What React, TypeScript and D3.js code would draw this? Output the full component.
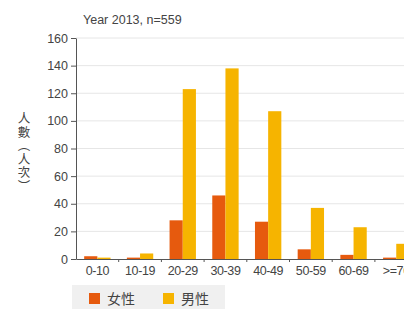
import React, { useEffect, useRef } from "react";
import * as d3 from "d3";

const ageGroups = ["0-10", "10-19", "20-29", "30-39", "40-49", "50-59", "60-69", ">=70"];
const femaleValues = [2, 1, 28, 46, 27, 7, 3, 1];
const maleValues = [1, 4, 123, 138, 107, 37, 23, 11];
const seriesNames = ["女性", "男性"];
const seriesColors = ["#e65a0e", "#f6b400"];
const yTicks = [0, 20, 40, 60, 80, 100, 120, 140, 160];
const yLabelChars = ["人", "數", "︵", "人", "次", "︶"];

const W = 404;
const H = 309;

export default function App() {
  const svgRef = useRef(null);

  useEffect(() => {
    const svg = d3.select(svgRef.current);
    svg.selectAll("*").remove();

    const marginLeft = 76, marginTop = 38, plotBottom = 259;
    const bandW = 42.7;
    const x = d3.scaleBand().domain(ageGroups).range([marginLeft, marginLeft + bandW * ageGroups.length]).paddingInner(0).paddingOuter(0);
    const y = d3.scaleLinear().domain([0, 160]).range([plotBottom, marginTop]);
    const inner = d3.scaleBand().domain(seriesNames).range([0, x.bandwidth()]).paddingOuter(0.62).paddingInner(0);

    const font = "'Helvetica Neue', 'Liberation Sans', Arial, sans-serif";
    const cjk = "'Noto Sans CJK TC', 'Noto Sans CJK SC', sans-serif";

    // gridlines
    svg.append("g")
      .selectAll("line")
      .data(yTicks.filter((d) => d > 0))
      .join("line")
      .attr("x1", marginLeft)
      .attr("x2", W)
      .attr("y1", (d) => y(d))
      .attr("y2", (d) => y(d))
      .attr("stroke", "#e6e6e6")
      .attr("stroke-width", 1);

    // bars
    const data = ageGroups.map((g, i) => ({ g, vals: [femaleValues[i], maleValues[i]] }));
    svg.append("g")
      .selectAll("g")
      .data(data)
      .join("g")
      .attr("transform", (d) => `translate(${x(d.g)},0)`)
      .selectAll("rect")
      .data((d) => d.vals.map((v, k) => ({ v, k })))
      .join("rect")
      .attr("x", (d) => inner(seriesNames[d.k]))
      .attr("width", inner.bandwidth())
      .attr("y", (d) => y(d.v))
      .attr("height", (d) => y(0) - y(d.v))
      .attr("fill", (d) => seriesColors[d.k]);

    // y axis
    const yAxis = d3.axisLeft(y).tickValues(yTicks).tickSize(5).tickSizeOuter(0);
    svg.append("g")
      .attr("transform", `translate(${marginLeft},0)`)
      .call(yAxis)
      .call((g) => g.select(".domain").attr("stroke", "#555"))
      .call((g) => g.selectAll(".tick line").attr("stroke", "#555"))
      .call((g) =>
        g.selectAll(".tick text")
          .attr("font-family", font)
          .attr("font-size", 12.5)
          .attr("fill", "#444")
          .attr("x", -8)
      );

    // x axis
    const xAxis = d3.axisBottom(x).tickSize(0).tickSizeOuter(0);
    svg.append("g")
      .attr("transform", `translate(0,${plotBottom})`)
      .call(xAxis)
      .call((g) => g.select(".domain").attr("stroke", "#555"))
      .call((g) =>
        g.selectAll(".tick text")
          .attr("font-family", font)
          .attr("font-size", 12.5)
          .attr("fill", "#444")
          .attr("y", 7)
          .attr("letter-spacing", -0.4)
      );
    svg.append("g")
      .selectAll("line")
      .data(ageGroups.slice(1))
      .join("line")
      .attr("x1", (d) => x(d))
      .attr("x2", (d) => x(d))
      .attr("y1", plotBottom)
      .attr("y2", plotBottom + 3)
      .attr("stroke", "#555");

    // title
    svg.append("text")
      .attr("x", 83)
      .attr("y", 24)
      .attr("font-family", font)
      .attr("font-size", 12.5)
      .attr("fill", "#444")
      .text("Year 2013, n=559");

    // y label, stacked glyphs in a single text
    svg.append("text")
      .attr("font-family", cjk)
      .attr("font-size", 12.5)
      .attr("fill", "#444")
      .attr("text-anchor", "middle")
      .selectAll("tspan")
      .data(yLabelChars)
      .join("tspan")
      .attr("x", 24)
      .attr("y", (d, i) => 123 + i * 13.5)
      .text((d) => d);

    // legend
    const legend = svg.append("g");
    legend.append("rect")
      .attr("x", 72)
      .attr("y", 285)
      .attr("width", 153)
      .attr("height", 30)
      .attr("fill", "#f0f0f0");
    const legendX = d3.scaleOrdinal().domain(seriesNames).range([89, 163]);
    const item = legend.selectAll("g").data(seriesNames).join("g")
      .attr("transform", (d) => `translate(${legendX(d)},293)`);
    item.append("rect")
      .attr("width", 11)
      .attr("height", 11)
      .attr("fill", (d, i) => seriesColors[i]);
    item.append("text")
      .attr("x", 18)
      .attr("y", 11)
      .attr("font-family", cjk)
      .attr("font-size", 14)
      .attr("fill", "#444")
      .text((d) => d);
  }, []);

  return (
    <svg
      ref={svgRef}
      width={W}
      height={H}
      style={{ position: "absolute", left: 0, top: 0, background: "#fff" }}
    />
  );
}
